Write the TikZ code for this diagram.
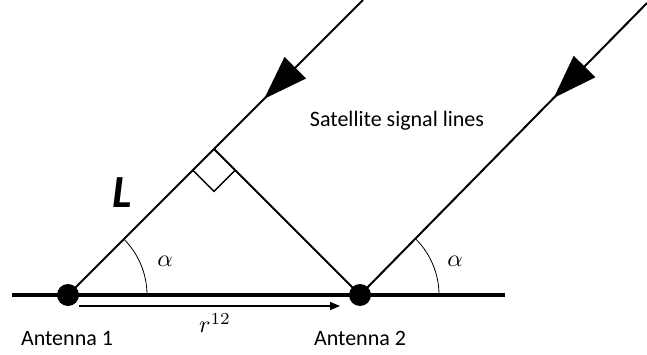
\documentclass[tikz,border=0pt]{standalone}
\usepackage{fontspec}
\setmainfont{Carlito}
\usetikzlibrary{arrows.meta,calc,decorations.markings}

\begin{document}
\begin{tikzpicture}[x=1pt,y=1pt,
    dot/.style={circle,fill=black,inner sep=0pt,minimum size=22pt},
    signal/.style={line width=2pt,postaction={decorate},
      decoration={markings,mark=at position #1 with {\arrow{Triangle[length=44pt,width=30pt]}}}},
    txt/.style={font=\fontsize{22}{26}\selectfont},
    mathtxt/.style={scale=2.4,transform shape}]
    \useasboundingbox (0,0) rectangle (647,354);

    % Draw baseline and antennas
    \draw[line width=3.5pt] (12,59) -- (505,59);
    \node[dot] (ant1) at (68,59) {};
    \node[dot] (ant2) at (360,59) {};
    \coordinate (sat1) at (363,354);
    \coordinate (sat2) at (647,351);

    % Satellite signal lines
    \draw[signal=0.335] (sat1) -- (ant1.center);
    \draw[signal=0.325] (sat2) -- (ant2.center);

    % Path difference and right angle
    \coordinate (foot) at ($(ant1.center)!(ant2.center)!(sat1)$);
    \draw[line width=2pt] (ant2.center) -- (foot);
    \coordinate (ra1) at ($(foot)!30pt!(ant1.center)$);
    \coordinate (ra2) at ($(foot)!30pt!(ant2.center)$);
    \draw[line width=1.5pt] (ra1) -- ($(ra1)+(ra2)-(foot)$) -- (ra2);

    % Angles
    \draw[line width=0.8pt] ($(ant1.center)+(79,0)$) arc[start angle=0,end angle=45,radius=79];
    \draw[line width=0.8pt] ($(ant2.center)+(79,0)$) arc[start angle=0,end angle=45.5,radius=79];
    \node[mathtxt] (alpha1) at (165,93) {$\alpha$};
    \node[mathtxt] (alpha2) at (455,93) {$\alpha$};

    % Baseline vector
    \draw[line width=1.5pt,-{Triangle[length=10pt,width=8pt]}]
      ([shift={(11,-11)}]ant1.center) -- ([shift={(-20,-11)}]ant2.center);
    \node[mathtxt] (r12) at (215,31) {$r^{12}$};

    % Add labels
    \node[font=\fontsize{46}{50}\selectfont\bfseries\itshape] (lenL) at (122,161) {L};
    \node[txt] (lab1) at (67,16) {Antenna 1};
    \node[txt] (lab2) at (360,16) {Antenna 2};
    \node[txt] (satlbl) at (397,233) {Satellite signal lines};
\end{tikzpicture}
\end{document}
